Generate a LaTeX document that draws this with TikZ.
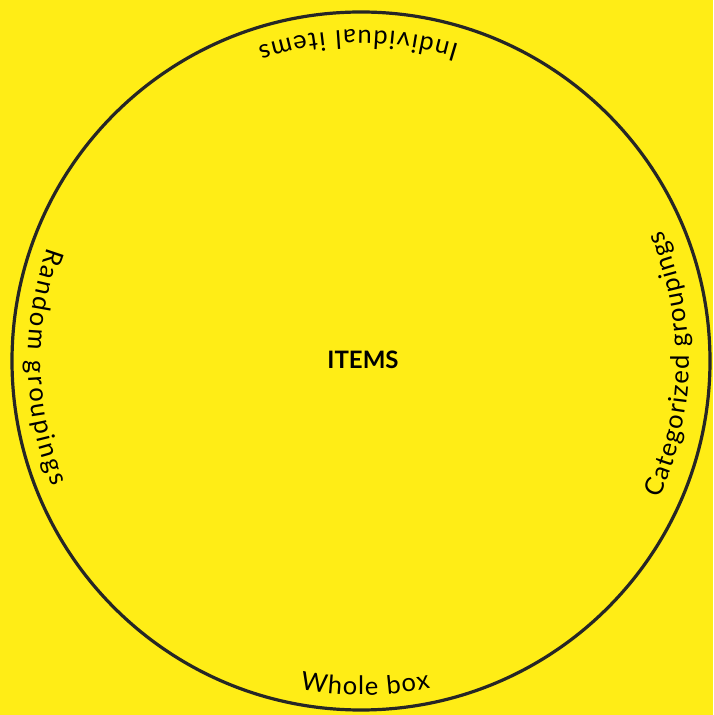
\documentclass[tikz,border=0pt]{standalone}
\usepackage{fontspec}
\setmainfont{Lato}
\usetikzlibrary{decorations.text}
\definecolor{paper}{RGB}{255,237,22}
\newcommand{\rimfont}{\fontsize{25.5}{28}\selectfont}

\begin{document}
\begin{tikzpicture}[x=1pt, y=1pt,
  rim/.style={draw=black!85, line width=3.2pt},
  arclbl/.style={decorate, decoration={text along path,
      text align=fit to path, text={|\rimfont|#1}}},
]
\fill[paper] (0,0) rectangle (713,715);
\coordinate (c) at (361,354);
\draw[rim] (c) circle (349);
\node[font=\fontsize{24}{28}\selectfont\bfseries] (items) at (363,355) {ITEMS};
% labels run counterclockwise just inside the rim
\path[arclbl={Individual items}] ([shift={(72.7:331)}]c) arc (72.7:108.2:331);
\path[arclbl={Random groupings}] ([shift={(160:333)}]c) arc (160:202.2:333);
\path[arclbl={Whole box}] ([shift={(259.5:334)}]c) arc (259.5:282:334);
\path[arclbl={Categorized groupings}] ([shift={(-24.7:328)}]c) arc (-24.7:23.5:328);
\end{tikzpicture}
\end{document}
